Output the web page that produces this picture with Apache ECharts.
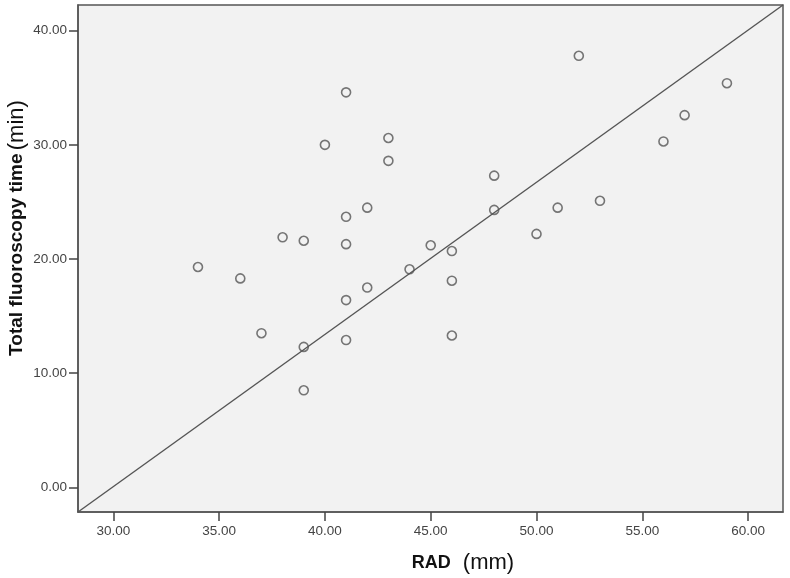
<!DOCTYPE html>
<html>
<head>
<meta charset="utf-8">
<script src="https://cdn.jsdelivr.net/npm/echarts@6/dist/echarts.min.js"></script>
<style>
  html, body { margin: 0; padding: 0; background: #ffffff; }
  #main { width: 790px; height: 578px; }
</style>
</head>
<body>
<div id="main"></div>
<script>
// RAD (mm) vs total fluoroscopy time (min)
var radValues = [41, 40, 43, 43, 42, 41, 38, 39, 41, 34, 36, 52, 59, 57, 56, 48,
                 48, 51, 53, 50, 45, 46, 44, 46, 41, 42, 37, 39, 41, 39, 46];
var fluoroTimes = [34.6, 30.0, 30.6, 28.6, 24.5, 23.7, 21.9, 21.6, 21.3, 19.3, 18.3, 37.8, 35.4, 32.6, 30.3, 27.3,
                   24.3, 24.5, 25.1, 22.2, 21.2, 20.7, 19.1, 18.1, 16.4, 17.5, 13.5, 12.3, 12.9, 8.5, 13.3];
var xTicks = [30, 35, 40, 45, 50, 55, 60];
var yTicks = [0, 10, 20, 30, 40];

// axis extents (SPSS style padding around the data)
var xMin = 28.33, xMax = 61.65;
var yMin = -2.16, yMax = 42.25;

var points = radValues.map(function (x, i) { return [x, fluoroTimes[i]]; });

var chart = echarts.init(document.getElementById('main'));
var font = '"Liberation Sans", Arial, sans-serif';

var option = {
  animation: false,
  backgroundColor: '#ffffff',
  grid: {
    left: 78, right: 7, top: 5, bottom: 66,
    show: true,
    backgroundColor: '#f2f2f2',
    borderColor: '#555555',
    borderWidth: 1.5
  },
  xAxis: {
    type: 'value',
    min: xMin, max: xMax,
    splitLine: { show: false },
    axisLine: { show: true, onZero: false, lineStyle: { color: '#555555', width: 1.5 } },
    axisTick: { show: true, length: 9, customValues: xTicks, lineStyle: { color: '#444444', width: 1.5 } },
    axisLabel: {
      customValues: xTicks, margin: 12,
      color: '#444444', fontSize: 13.5, fontFamily: font,
      formatter: function (v) { return v.toFixed(2); }
    }
  },
  yAxis: {
    type: 'value',
    min: yMin, max: yMax,
    splitLine: { show: false },
    axisLine: { show: true, onZero: false, lineStyle: { color: '#555555', width: 1.5 } },
    axisTick: { show: true, length: 9, customValues: yTicks, lineStyle: { color: '#444444', width: 1.5 } },
    axisLabel: {
      customValues: yTicks, margin: 11,
      color: '#444444', fontSize: 13.5, fontFamily: font,
      formatter: function (v) { return v.toFixed(2); }
    }
  },
  graphic: [
    {
      type: 'text',
      x: 17, y: 228,
      rotation: Math.PI / 2,
      style: {
        text: '{b|Total fluoroscopy time} {r|(min)}',
        align: 'center',
        verticalAlign: 'middle',
        fill: '#111111',
        rich: {
          b: { fontFamily: font, fontWeight: 'bold', fontSize: 19, fill: '#111111' },
          r: { fontFamily: font, fontSize: 22, fill: '#111111' }
        }
      }
    },
    {
      type: 'text',
      x: 463, y: 563,
      style: {
        text: '{b|RAD}{r|(mm)}',
        align: 'center',
        verticalAlign: 'middle',
        fill: '#111111',
        rich: {
          b: { fontFamily: font, fontWeight: 'bold', fontSize: 18, fill: '#111111', padding: [0, 12, 0, 0] },
          r: { fontFamily: font, fontSize: 22, fill: '#111111' }
        }
      }
    }
  ],
  series: [
    {
      type: 'scatter',
      data: points,
      symbol: 'circle',
      symbolSize: 9,
      itemStyle: { color: 'rgba(0,0,0,0)', borderColor: '#555555', borderWidth: 1.6 },
      markLine: {
        silent: true,
        symbol: ['none', 'none'],
        label: { show: false },
        lineStyle: { color: '#555555', width: 1.4, type: 'solid' },
        data: [[{ coord: [xMin, yMin] }, { coord: [xMax, yMax] }]]
      }
    }
  ]
};

chart.setOption(option);
</script>
</body>
</html>
